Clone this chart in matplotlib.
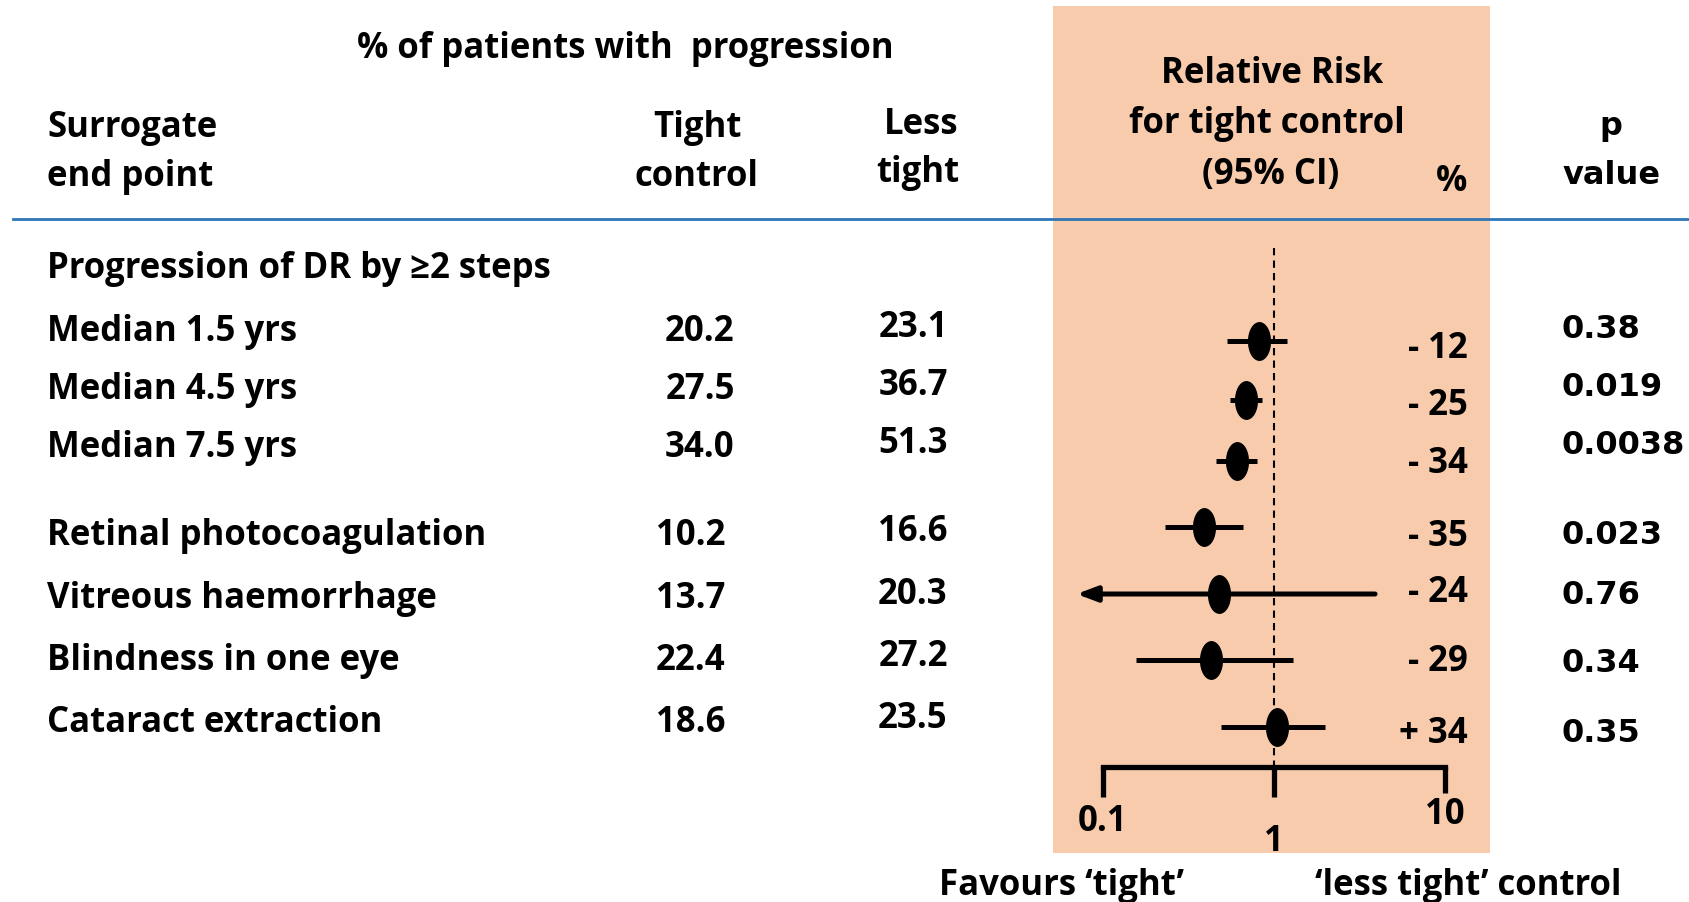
import numpy as np
import matplotlib
matplotlib.use("Agg")
import matplotlib.pyplot as plt
from matplotlib.path import Path

# table contents
endpoints = ["Median 1.5 yrs", "Median 4.5 yrs", "Median 7.5 yrs",
             "Retinal photocoagulation", "Vitreous haemorrhage",
             "Blindness in one eye", "Cataract extraction"]
tight = [20.2, 27.5, 34.0, 10.2, 13.7, 22.4, 18.6]
less_tight = [23.1, 36.7, 51.3, 16.6, 20.3, 27.2, 23.5]
rr = [0.82, 0.69, 0.61, 0.39, 0.48, 0.43, 1.04]
ci_low = [0.53, 0.55, 0.46, 0.23, 0.07, 0.155, 0.49]
ci_high = [1.19, 0.85, 0.80, 0.66, 3.9, 1.29, 1.99]
pct_change = [-12, -25, -34, -35, -24, -29, 34]
p_values = ["0.38", "0.019", "0.0038", "0.023", "0.76", "0.34", "0.35"]
axis_ticks = [0.1, 1, 10]

# layout (pixels from top-left)
W, H = 1690, 902
text_y = [328, 386, 444, 532, 595, 657, 719]
mark_y = [341, 400, 461, 527, 594, 660, 727]
pct_y = [345, 402, 460, 533, 589, 658, 730]
p_y = [328, 385, 443, 534, 593, 661, 731]
tight_x = [700, 700, 700, 691, 691, 691, 691]
less_x = 913
band_left, band_right, band_top, band_bottom = 1053, 1490, 6, 853
x01, x10 = 1103, 1445          # pixel positions of 0.1 and 10

PEACH = "#F8CBAD"
BLUE = "#2E75B6"
FONT = "Open Sans"
FS = 25
DY = 4   # Open Sans sits a little high with va="center"

fig = plt.figure(figsize=(W / 100, H / 100), dpi=100)
ax = fig.add_axes([0, 0, 1, 1])
ax.set_xlim(0, W)
ax.set_ylim(H, 0)
ax.axis("off")

# forest plot panel with log x scale, y in pixels
dec = (x10 - x01) / 2.0
lo = 10 ** (-1 - (x01 - band_left) / dec)
hi = 10 ** (1 + (band_right - x10) / dec)
fax = fig.add_axes([band_left / W, 1 - band_bottom / H,
                    (band_right - band_left) / W, (band_bottom - band_top) / H])
fax.set_xscale("log")
fax.set_xlim(lo, hi)
fax.set_ylim(band_bottom, band_top)
fax.set_facecolor(PEACH)
for s in fax.spines.values():
    s.set_visible(False)
fax.set_xticks([])
fax.set_yticks([])
fax.minorticks_off()
fax.set_zorder(0)
ax.set_zorder(1)
ax.patch.set_alpha(0)

def t(x, y, s, size=FS, ha="left", va="center", family=FONT, **kw):
    ax.text(x, y + DY, s, fontsize=size, ha=ha, va=va, family=family,
            fontweight="bold", color="black", **kw)

# header
t(625, 45, "% of patients with  progression", ha="center")
t(47, 124, "Surrogate")
t(47, 173, "end point")
t(697, 124, "Tight", ha="center")
t(697, 173, "control", ha="center")
t(959, 121, "Less", ha="right")
t(959, 169, "tight", ha="right")
t(1272, 70, "Relative Risk", ha="center")
t(1267, 120, "for tight control", ha="center")
t(1271, 171, "(95% CI)", ha="center")
t(1452, 178, "%", ha="center")
t(1611, 122, "p", ha="center", family="DejaVu Sans", size=23)
t(1612, 172, "value", ha="center", family="DejaVu Sans", size=23)
ax.plot([13, W], [219, 219], color=BLUE, lw=2)

t(47, 265, "Progression of DR by \u22652 steps")

for i, name in enumerate(endpoints):
    t(47, text_y[i], name)
    t(tight_x[i], text_y[i], f"{tight[i]:.1f}", ha="center")
    t(less_x, text_y[i] - 4, f"{less_tight[i]:.1f}", ha="center")
    sign = "-" if pct_change[i] < 0 else "+"
    t(1468, pct_y[i], f"{sign} {abs(pct_change[i])}", ha="right")
    t(1562, p_y[i] - 2, p_values[i], family="DejaVu Sans", size=23)

# reference line at RR = 1
fax.plot([1, 1], [248, 767], color="black", lw=1.5, ls=(0, (3.5, 2.5)))

# confidence intervals and point estimates
ell = Path.unit_circle()
marker = Path(ell.vertices * np.array([0.58, 1.0]), ell.codes)
for i in range(len(rr)):
    if ci_low[i] < axis_ticks[0]:
        fax.annotate("", xy=(ci_low[i], mark_y[i]), xytext=(ci_high[i], mark_y[i]),
                     arrowprops=dict(arrowstyle="-|>,head_length=1.2,head_width=0.45",
                                     color="black", lw=3.6, shrinkA=0, shrinkB=0))
    else:
        fax.plot([ci_low[i], ci_high[i]], [mark_y[i]] * 2, color="black",
                 lw=3.6, solid_capstyle="butt")
    fax.plot(rr[i], mark_y[i], marker=marker, ms=27, color="black", ls="none")

# scale bracket
fax.plot([axis_ticks[0], axis_ticks[-1]], [767, 767], color="black", lw=3.8,
         solid_capstyle="projecting")
for v, bottom in zip(axis_ticks, [797, 797, 793]):
    fax.plot([v, v], [767, bottom], color="black", lw=3.8, solid_capstyle="butt")
for v, y in zip(axis_ticks, [822, 842, 815]):
    fax.text(v, y, f"{v:g}", fontsize=FS, ha="center", va="center",
             family=FONT, fontweight="bold")

t(1062, 882, "Favours \u2018tight\u2019", ha="center")
t(1315, 882, "\u2018less tight\u2019 control")

fig.savefig("out.png", dpi=100)
